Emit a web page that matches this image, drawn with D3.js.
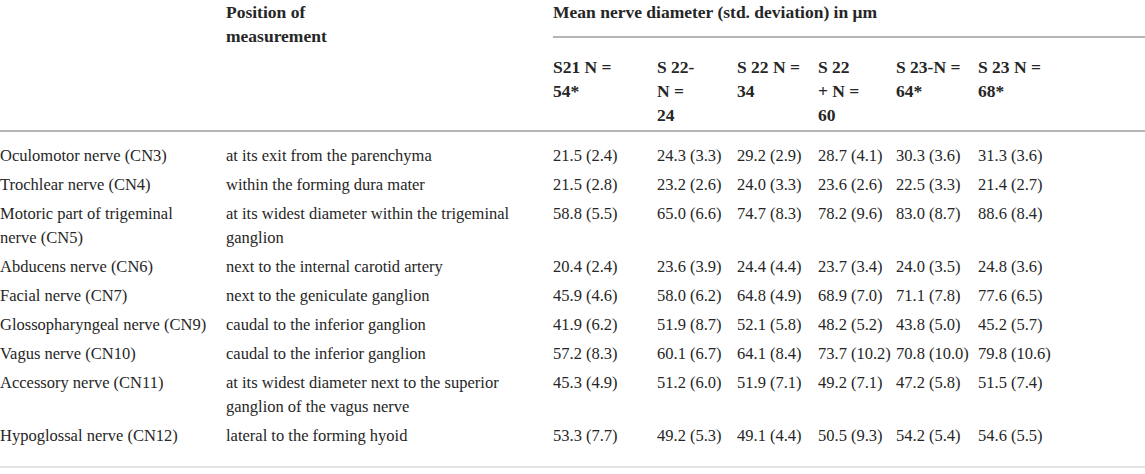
<!DOCTYPE html>
<html>
<head>
    <meta charset="utf-8">
    <title>Nerve diameters</title>
    <script src="https://d3js.org/d3.v7.min.js"></script>
    <style>
        body { margin: 0; background: #fff; }
        text { font-family: "Liberation Serif", "DejaVu Serif", serif; fill: #262626; }
    </style>
</head>
<body>
<div id="chart"></div>
<script type="text/javascript">
    // table content
    let nerves = ["Oculomotor nerve (CN3)", "Trochlear nerve (CN4)", "Motoric part of trigeminal\nnerve (CN5)",
        "Abducens nerve (CN6)", "Facial nerve (CN7)", "Glossopharyngeal nerve (CN9)", "Vagus nerve (CN10)",
        "Accessory nerve (CN11)", "Hypoglossal nerve (CN12)"];
    let positions = ["at its exit from the parenchyma", "within the forming dura mater",
        "at its widest diameter within the trigeminal\nganglion", "next to the internal carotid artery",
        "next to the geniculate ganglion", "caudal to the inferior ganglion", "caudal to the inferior ganglion",
        "at its widest diameter next to the superior\nganglion of the vagus nerve", "lateral to the forming hyoid"];
    let groups = ["S21 N =\n54*", "S 22-\nN =\n24", "S 22 N =\n34", "S 22\n+ N =\n60", "S 23-N =\n64*", "S 23 N =\n68*"];
    // mean (sd) per nerve, one entry per group
    let means = [
        [21.5, 24.3, 29.2, 28.7, 30.3, 31.3],
        [21.5, 23.2, 24.0, 23.6, 22.5, 21.4],
        [58.8, 65.0, 74.7, 78.2, 83.0, 88.6],
        [20.4, 23.6, 24.4, 23.7, 24.0, 24.8],
        [45.9, 58.0, 64.8, 68.9, 71.1, 77.6],
        [41.9, 51.9, 52.1, 48.2, 43.8, 45.2],
        [57.2, 60.1, 64.1, 73.7, 70.8, 79.8],
        [45.3, 51.2, 51.9, 49.2, 47.2, 51.5],
        [53.3, 49.2, 49.1, 50.5, 54.2, 54.6]
    ];
    let sds = [
        [2.4, 3.3, 2.9, 4.1, 3.6, 3.6],
        [2.8, 2.6, 3.3, 2.6, 3.3, 2.7],
        [5.5, 6.6, 8.3, 9.6, 8.7, 8.4],
        [2.4, 3.9, 4.4, 3.4, 3.5, 3.6],
        [4.6, 6.2, 4.9, 7.0, 7.8, 6.5],
        [6.2, 8.7, 5.8, 5.2, 5.0, 5.7],
        [8.3, 6.7, 8.4, 10.2, 10.0, 10.6],
        [4.9, 6.0, 7.1, 7.1, 5.8, 7.4],
        [7.7, 5.3, 4.4, 9.3, 5.4, 5.5]
    ];
    let headPosition = "Position of\nmeasurement";
    let headMean = "Mean nerve diameter (std. deviation) in μm";

    let W = 1145, H = 474;
    let fontSize = 16.5, headSize = 17.5, lineH = 24, rowPad = 5;

    let svg = d3.select("#chart").append("svg")
        .attr("width", W).attr("height", H);

    // column positions
    let cols = ["nerve", "position"].concat(groups.map((g, i) => "g" + i));
    let xCol = d3.scaleOrdinal().domain(cols).range([0, 226, 553, 657, 737, 818, 896, 978]);

    // row positions from line counts
    let lines = s => s.split("\n").length;
    let rowLines = nerves.map((n, i) => Math.max(lines(n), lines(positions[i])));
    let tops = [];
    let acc = 0;
    rowLines.forEach((n, i) => { tops.push(acc); acc += n * lineH + rowPad; });
    let yRow = d3.scaleLinear().domain([0, acc]).range([142, 142 + acc]);

    function multiText(sel, str, x, y, bold) {
        let t = sel.append("text")
            .attr("x", x).attr("y", y)
            .attr("font-size", bold ? headSize : fontSize)
            .attr("font-weight", bold ? "bold" : "normal");
        str.split("\n").forEach((l, k) => {
            t.append("tspan").attr("x", x).attr("y", y + k * lineH).text(l);
        });
        return t;
    }

    // header
    let head = svg.append("g");
    multiText(head, headPosition, xCol("position"), 18, true);
    multiText(head, headMean, xCol("g0"), 18, true);
    head.append("line")
        .attr("x1", xCol("g0")).attr("x2", W)
        .attr("y1", 37).attr("y2", 37)
        .attr("stroke", "#b5b5b5").attr("stroke-width", 2);
    groups.forEach((g, i) => multiText(head, g, xCol("g" + i), 73, true));
    head.append("line")
        .attr("x1", 0).attr("x2", W)
        .attr("y1", 131).attr("y2", 131)
        .attr("stroke", "#b5b5b5").attr("stroke-width", 2);

    // body rows
    let rows = svg.selectAll("g.row")
        .data(nerves)
        .enter().append("g")
        .attr("class", "row")
        .attr("transform", (d, i) => "translate(0," + yRow(tops[i]) + ")");

    rows.each(function(d, i) {
        let g = d3.select(this);
        let base = lineH - 5;
        multiText(g, d, xCol("nerve"), base, false);
        multiText(g, positions[i], xCol("position"), base, false);
        means[i].forEach((m, j) => {
            multiText(g, m.toFixed(1) + " (" + sds[i][j].toFixed(1) + ")", xCol("g" + j), base, false);
        });
    });

    // bottom rule
    svg.append("line")
        .attr("x1", 0).attr("x2", W)
        .attr("y1", yRow(acc) + 16).attr("y2", yRow(acc) + 16)
        .attr("stroke", "#e3e3e3").attr("stroke-width", 2);
</script>
</body>
</html>
